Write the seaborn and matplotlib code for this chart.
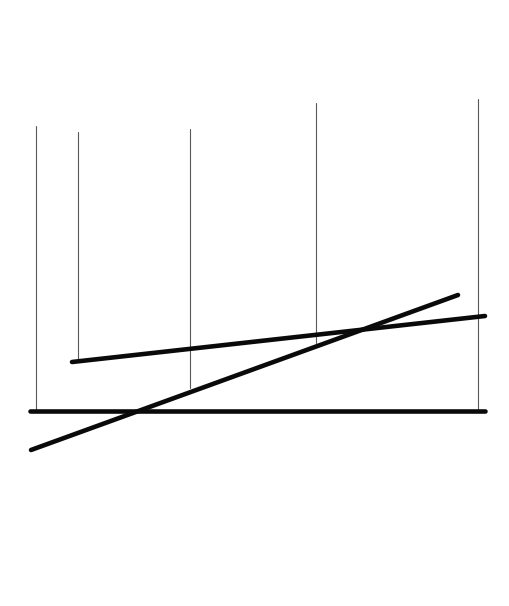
import matplotlib
matplotlib.use("Agg")
import matplotlib.pyplot as plt
import seaborn as sns
import pandas as pd

# Suspension wires (vertical thin lines): x position, top y, bottom y (pixel-like units, y downward)
wire_x = [36, 78, 190, 316, 478]
wire_top = [126, 132, 129, 103, 99]
wire_bottom = [411, 362, 388, 343, 411]

# Rods (thick segments): start/end points
rod_names = ["horizontal", "shallow", "diagonal"]
rod_x0 = [30, 72, 31]
rod_y0 = [411, 362, 450]
rod_x1 = [485, 485, 458]
rod_y1 = [411, 316, 295]

sns.set_theme(style="white")

wires = pd.DataFrame({
    "x": [v for x in wire_x for v in (x, x)],
    "y": [v for t, b in zip(wire_top, wire_bottom) for v in (t, b)],
    "id": [i for i in range(len(wire_x)) for _ in (0, 1)],
})
rods = pd.DataFrame({
    "x": [v for a, b in zip(rod_x0, rod_x1) for v in (a, b)],
    "y": [v for a, b in zip(rod_y0, rod_y1) for v in (a, b)],
    "id": [n for n in rod_names for _ in (0, 1)],
})

fig = plt.figure(figsize=(5.10, 6.06), dpi=100)
ax = fig.add_axes([0, 0, 1, 1])

sns.lineplot(data=wires, x="x", y="y", units="id", estimator=None, sort=False,
             color="#5a5a5a", linewidth=0.8, ax=ax)
sns.lineplot(data=rods, x="x", y="y", units="id", estimator=None, sort=False,
             color="#0a0a0a", linewidth=3.3, ax=ax, solid_capstyle="round")

ax.set_xlim(0, 510)
ax.set_ylim(606, 0)
ax.axis("off")
fig.savefig("out.png", dpi=100, facecolor="white")
